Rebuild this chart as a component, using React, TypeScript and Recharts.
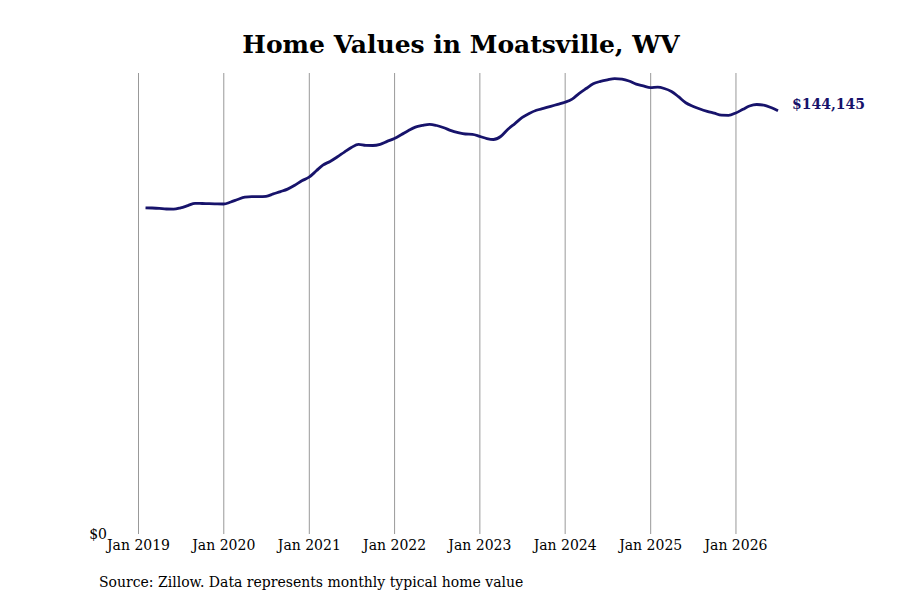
import { LineChart, Line, XAxis, YAxis, ReferenceLine } from "recharts";

// Typical home value, month-end, Jan 2019 .. Jun 2026
const startYear = 2019;
const homeValues = [
  111090, 111020, 110890, 110680, 110650, 111090, 111840, 112620, 112560, 112490, 112420, 112380,
  113070, 113920, 114700, 114870, 114870, 115010, 115820, 116610, 117460, 118790, 120290, 121510,
  123690, 125630, 126890, 128390, 130060, 131630, 132680, 132340, 132310, 132720, 133700, 134690,
  136050, 137310, 138570, 139150, 139530, 139120, 138370, 137350, 136700, 136220, 136120, 135440,
  134660, 134350, 135370, 137760, 139770, 141770, 143240, 144330, 144940, 145630, 146340, 147050,
  148110, 149980, 151720, 153320, 154140, 154680, 155090, 154890, 154270, 153220, 152610, 151990,
  152160, 151720, 150700, 148930, 146880, 145690, 144740, 143950, 143310, 142620, 142590, 143380,
  144640, 145760, 146270, 146070, 145250, 144145,
];
const tickYears = [2019, 2020, 2021, 2022, 2023, 2024, 2025, 2026];
const yTicks = [0];

const data = homeValues.map((value, i) => ({
  t: Date.UTC(startYear, i + 1, 0),
  value,
}));
const xTicks = tickYears.map((y) => Date.UTC(y, 0, 1));

const NAVY = "#17136b";
const FONT = "'DejaVu Serif', serif";

const fmtMoney = (v: number) => "$" + v.toLocaleString("en-US");

const LastLabel = (props: any) => {
  const { x, y, index } = props;
  if (index !== homeValues.length - 1) return null;
  return (
    <text
      x={x + 14}
      y={y - 1.5}
      fill={NAVY}
      fontFamily={FONT}
      fontWeight="bold"
      fontSize={14}
    >
      {fmtMoney(homeValues[index])}
    </text>
  );
};

export default function App() {
  return (
    <div style={{ position: "absolute", left: 0, top: 0, width: 900, height: 600, background: "#fff" }}>
      <LineChart
        width={900}
        height={600}
        data={data}
        margin={{ top: 73, right: 86, bottom: 36, left: 80 }}
      >
        <XAxis
          dataKey="t"
          type="number"
          domain={[Date.UTC(2018, 8, 1), Date.UTC(2026, 11, 1)]}
          ticks={xTicks}
          tickFormatter={(t: number) => `Jan ${new Date(t).getUTCFullYear()}`}
          axisLine={false}
          tickLine={false}
          tickSize={4}
          tickMargin={2}
          height={30}
          tick={{ fontSize: 14, fill: "#000", fontFamily: FONT }}
        />
        <YAxis
          type="number"
          domain={[0, 157000]}
          ticks={yTicks}
          tickFormatter={(v: number) => fmtMoney(v)}
          axisLine={false}
          tickLine={false}
          tickSize={0}
          tickMargin={3}
          width={30}
          tick={{ fontSize: 14, fill: "#000", fontFamily: FONT }}
        />
        {xTicks.map((t) => (
          <ReferenceLine key={t} x={t} stroke="#999" strokeWidth={1} />
        ))}
        <Line
          type="monotone"
          dataKey="value"
          stroke={NAVY}
          strokeWidth={2.8}
          dot={false}
          isAnimationActive={false}
          label={<LastLabel />}
        />
      </LineChart>
      <svg
        width={900}
        height={600}
        style={{ position: "absolute", left: 0, top: 0, pointerEvents: "none" }}
      >
        <text x={461} y={53} textAnchor="middle" fontFamily={FONT} fontWeight="bold" fontSize={25} fill="#000">
          Home Values in Moatsville, WV
        </text>
        <text x={99} y={587} fontFamily={FONT} fontSize={14} fill="#000">
          Source: Zillow. Data represents monthly typical home value
        </text>
      </svg>
    </div>
  );
}
